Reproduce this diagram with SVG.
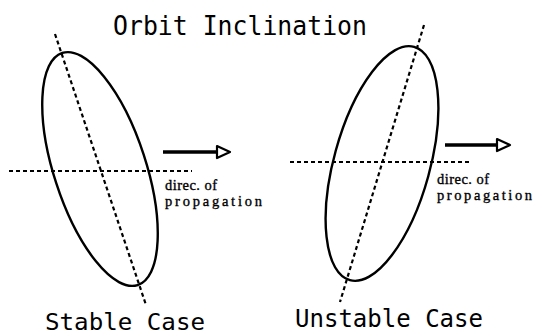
<svg xmlns="http://www.w3.org/2000/svg" width="534" height="334" viewBox="0 0 534 334">
<style>
.orbit{fill:none;stroke:#000;stroke-width:2.4}
.axis{fill:none;stroke:#000;stroke-width:2.2;stroke-dasharray:4 3}
.shaft{stroke:#000;stroke-width:3.5;fill:none}
.head{fill:#fff;stroke:#000;stroke-width:2.2;stroke-linejoin:round}
.mono{font-family:"DejaVu Sans Mono","Liberation Mono",monospace;fill:#000}
.lbl{font-family:"Liberation Serif","DejaVu Serif",serif;font-size:14.5px;fill:#000;stroke:#000;stroke-width:0.35}
</style>
<rect width="534" height="334" fill="#fff"/>
<text id="title" class="mono" x="113" y="35" font-size="26" textLength="254" lengthAdjust="spacingAndGlyphs">Orbit Inclination</text>
<g id="stable">
<ellipse class="orbit" cx="100" cy="169" rx="46" ry="122" transform="rotate(-18 100 169)"/>
<text class="mono" x="45" y="330" font-size="23" textLength="160" lengthAdjust="spacingAndGlyphs">Stable Case</text>
</g>
<g id="unstable">
<ellipse class="orbit" cx="382" cy="163.5" rx="48" ry="121" transform="rotate(15.4 382 163.5)"/>
<text class="mono" x="295" y="327" font-size="24" textLength="188" lengthAdjust="spacingAndGlyphs">Unstable Case</text>
</g>
<g id="connectors">
<line class="axis" x1="55" y1="34" x2="146" y2="305"/>
<line class="axis" x1="9" y1="171" x2="192" y2="171"/>
<line class="axis" x1="424" y1="25" x2="340" y2="302"/>
<line class="axis" x1="290" y1="162" x2="472" y2="162"/>
<line class="shaft" x1="163" y1="152" x2="218" y2="152"/>
<polygon class="head" points="217,146 230,152 217,158"/>
<line class="shaft" x1="445" y1="145" x2="498" y2="145"/>
<polygon class="head" points="497,139 510,145 497,151"/>
</g>
<g id="label-left">
<text class="lbl" x="165" y="190" textLength="52" lengthAdjust="spacing">direc. of</text>
<text class="lbl" x="165" y="206" textLength="97" lengthAdjust="spacing">propagation</text>
</g>
<g id="label-right">
<text class="lbl" x="437" y="184" textLength="52" lengthAdjust="spacing">direc. of</text>
<text class="lbl" x="437" y="200" textLength="95" lengthAdjust="spacing">propagation</text>
</g>
</svg>
